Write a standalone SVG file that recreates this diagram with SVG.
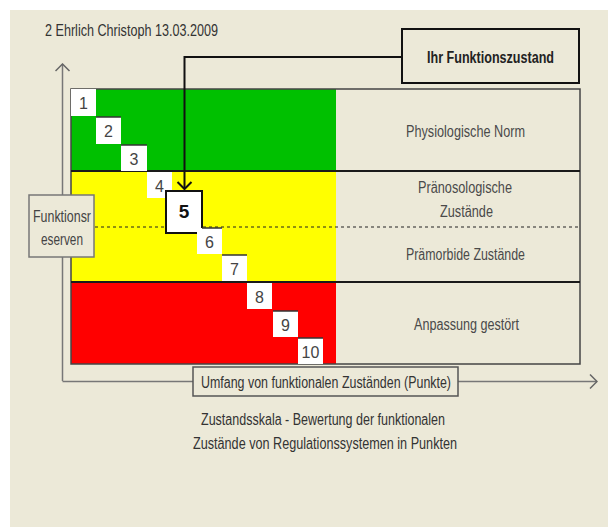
<svg xmlns="http://www.w3.org/2000/svg" width="608" height="527" viewBox="0 0 608 527">
<style>
  text { font-family: "Liberation Sans", Arial, sans-serif; }
  .t { font-size: 16px; fill: #333; }
  .lab { font-size: 16px; fill: #4a4a4a; text-anchor: middle; }
  .num { font-size: 16px; fill: #444; text-anchor: middle; }
  .nb { fill: #fff; }
  .nbt { stroke: #333; stroke-width: 1.5; }
  .div { stroke: #1a1a1a; stroke-width: 2; }
  .axis { stroke: #777; stroke-width: 1.5; fill: none; }
</style>
<defs>
  <marker id="chevG" viewBox="-9 -8 10 16" refX="0" refY="0" markerWidth="10" markerHeight="16" markerUnits="userSpaceOnUse" orient="auto">
    <path d="M-7,-7 L0,0 L-7,7" fill="none" stroke="#666" stroke-width="1.5"/>
  </marker>
  <marker id="chevB" viewBox="-9 -9 11 18" refX="0" refY="0" markerWidth="11" markerHeight="18" markerUnits="userSpaceOnUse" orient="auto">
    <path d="M-7,-7 L0,0 L-7,7" fill="none" stroke="#111" stroke-width="2"/>
  </marker>
</defs>

<rect x="0" y="0" width="608" height="527" fill="#ffffff"/>
<rect x="10" y="10" width="598" height="517" fill="#ECE9D8"/>

<g id="title">
  <text class="t" x="45" y="36" textLength="173" lengthAdjust="spacingAndGlyphs">2 Ehrlich Christoph 13.03.2009</text>
</g>

<g id="zone-norm">
  <rect x="71" y="89" width="265" height="82" fill="#00C000"/>
  <text class="lab" x="465.5" y="137" textLength="119" lengthAdjust="spacingAndGlyphs">Physiologische Norm</text>
</g>
<g id="zone-pre">
  <rect x="71" y="171" width="265" height="111" fill="#FFFF00"/>
  <text class="lab" x="465" y="193" textLength="94" lengthAdjust="spacingAndGlyphs">Pränosologische</text>
  <text class="lab" x="466.5" y="217" textLength="53" lengthAdjust="spacingAndGlyphs">Zustände</text>
  <text class="lab" x="465.5" y="260" textLength="119" lengthAdjust="spacingAndGlyphs">Prämorbide Zustände</text>
</g>
<g id="zone-red">
  <rect x="71" y="282" width="265" height="82" fill="#FF0000"/>
  <text class="lab" x="466.5" y="330" textLength="105" lengthAdjust="spacingAndGlyphs">Anpassung gestört</text>
</g>

<g id="table-lines">
  <rect x="71" y="89" width="509" height="275" fill="none" stroke="#444" stroke-width="1.5"/>
  <line class="div" x1="71" y1="171" x2="580" y2="171"/>
  <line class="div" x1="71" y1="282" x2="580" y2="282"/>
  <line x1="71" y1="227" x2="580" y2="227" stroke="#222" stroke-width="1.2" stroke-dasharray="3,3"/>
</g>

<g id="connectors">
  <path class="axis" d="M62.5,381 V64" marker-end="url(#chevG)"/>
  <path class="axis" d="M62.5,381.5 H597" marker-end="url(#chevG)"/>
  <path d="M402,57 H184.5 V189" fill="none" stroke="#111" stroke-width="2" marker-end="url(#chevB)"/>
</g>

<g id="n1"><rect class="nb" x="71" y="89" width="25" height="27"/><text class="num" x="83.5" y="109">1</text></g>
<g id="n2"><rect class="nb" x="96" y="117" width="25" height="27"/><line class="nbt" x1="96" y1="117" x2="121" y2="117"/><text class="num" x="108.5" y="137">2</text></g>
<g id="n3"><rect class="nb" x="121" y="145" width="26" height="26"/><line class="nbt" x1="121" y1="145" x2="147" y2="145"/><text class="num" x="134" y="165">3</text></g>
<g id="n4"><rect class="nb" x="147" y="172" width="25" height="26"/><text class="num" x="159.5" y="192">4</text></g>
<g id="n5"><rect x="166" y="191" width="36" height="42" fill="#fff" stroke="#111" stroke-width="2"/><text x="184" y="218" font-size="19" font-weight="bold" fill="#111" text-anchor="middle">5</text></g>
<g id="n6"><rect class="nb" x="197" y="228" width="25" height="26"/><line class="nbt" x1="202" y1="228" x2="222" y2="228"/><text class="num" x="209.5" y="248">6</text></g>
<g id="n7"><rect class="nb" x="222" y="255" width="25" height="26"/><line class="nbt" x1="222" y1="255" x2="247" y2="255"/><text class="num" x="234.5" y="275">7</text></g>
<g id="n8"><rect class="nb" x="247" y="283" width="25" height="26"/><text class="num" x="259.5" y="303">8</text></g>
<g id="n9"><rect class="nb" x="273" y="311" width="25" height="26"/><line class="nbt" x1="273" y1="311" x2="298" y2="311"/><text class="num" x="285.5" y="331">9</text></g>
<g id="n10"><rect class="nb" x="298" y="338" width="25" height="26"/><line class="nbt" x1="298" y1="338" x2="323" y2="338"/><text class="num" x="310.5" y="358">10</text></g>

<g id="funktionsreserven">
  <rect x="29" y="195" width="65" height="62" fill="#ECE9D8" stroke="#777" stroke-width="1.5"/>
  <text x="33" y="222" font-size="16" fill="#444" textLength="58" lengthAdjust="spacingAndGlyphs">Funktionsr</text>
  <text x="41" y="245" font-size="16" fill="#444" textLength="42" lengthAdjust="spacingAndGlyphs">eserven</text>
</g>

<g id="ihr-funktionszustand">
  <rect x="402" y="29" width="177" height="54" fill="#ECE9D8" stroke="#111" stroke-width="2"/>
  <text x="427" y="63" font-size="16" font-weight="bold" fill="#222" textLength="127" lengthAdjust="spacingAndGlyphs">Ihr Funktionszustand</text>
</g>

<g id="x-label">
  <rect x="193" y="367" width="265" height="29" fill="#ECE9D8" stroke="#555" stroke-width="1.5"/>
  <text class="t" x="201" y="388" textLength="250" lengthAdjust="spacingAndGlyphs">Umfang von funktionalen Zuständen (Punkte)</text>
</g>

<g id="caption">
  <text class="t" x="201" y="425" textLength="244" lengthAdjust="spacingAndGlyphs">Zustandsskala - Bewertung der funktionalen</text>
  <text class="t" x="193" y="449" textLength="264" lengthAdjust="spacingAndGlyphs">Zustände von Regulationssystemen in Punkten</text>
</g>
</svg>
